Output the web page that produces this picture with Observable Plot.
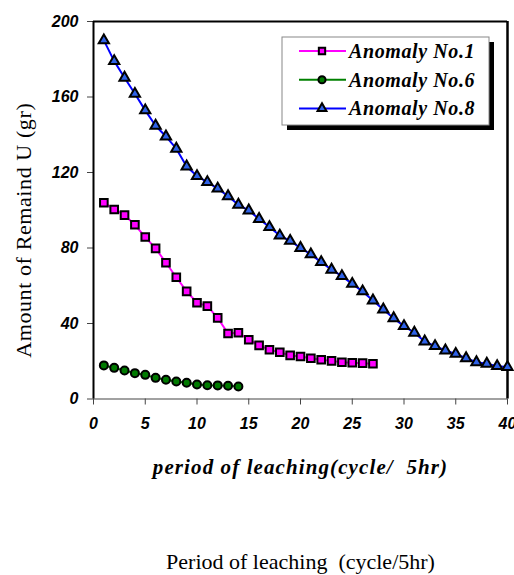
<!DOCTYPE html>
<html>
<head>
<meta charset="utf-8">
<script src="https://cdn.jsdelivr.net/npm/d3@7"></script>
<script src="https://cdn.jsdelivr.net/npm/@observablehq/plot@0.6"></script>
<style>
  html, body { margin: 0; padding: 0; background: #fff; }
  svg text { white-space: pre; }
</style>
</head>
<body>
<div id="chart"></div>
<script>
// ---- data ----
const cycles8 = d3.range(1, 41);
const anomaly8 = [190.0, 179.0, 170.2, 161.7, 152.9, 144.8, 139.1, 132.6, 123.2, 118.1,
                  114.9, 111.5, 107.4, 102.9, 99.9, 95.4, 91.1, 86.6, 83.8, 80.0,
                  76.6, 72.5, 68.5, 65.1, 61.0, 57.0, 52.2, 47.4, 42.8, 38.6,
                  35.1, 30.5, 28.0, 25.7, 23.9, 21.6, 19.5, 18.7, 17.4, 16.9];
const cycles1 = d3.range(1, 28);
const anomaly1 = [104.0, 100.4, 97.4, 92.3, 85.8, 79.8, 72.2, 64.5, 57.0, 51.0,
                  49.2, 43.0, 34.7, 35.1, 31.4, 28.4, 26.1, 24.8, 23.1, 22.5,
                  21.6, 20.8, 20.2, 19.5, 19.2, 19.0, 18.7];
const cycles6 = d3.range(1, 15);
const anomaly6 = [17.8, 16.5, 15.1, 13.7, 12.8, 11.2, 10.2, 9.3, 8.6, 7.7,
                  7.3, 7.2, 7.0, 6.6];
const seriesNames = ["Anomaly No.1", "Anomaly No.6", "Anomaly No.8"];
const xTicks = [0, 5, 10, 15, 20, 25, 30, 35, 40];
const yTicks = [0, 40, 80, 120, 160, 200];
const yTitle = "Amount of Remaind U (gr)";
const xTitle = "period of leaching(cycle/  5hr)";
const caption = "Period of leaching  (cycle/5hr)";

const toRows = (xs, ys, name) => xs.map((x, i) => ({x, y: ys[i], name}));
const d1 = toRows(cycles1, anomaly1, seriesNames[0]);
const d6 = toRows(cycles6, anomaly6, seriesNames[1]);
const d8 = toRows(cycles8, anomaly8, seriesNames[2]);

const colors = {line1: "#ff00ff", line6: "#008000", line8: "#0000ff",
                fill1: "#ff00ff", fill6: "#007a00", fill8: "#2f62e8"};

const serif = "Liberation Serif, Times New Roman, serif";
const tickFont = {fontFamily: "Liberation Sans, Arial, sans-serif", fontSize: 16, fontWeight: "bold", fontStyle: "italic"};

const chart = Plot.plot({
  width: 514,
  height: 575,
  marginLeft: 93,
  marginTop: 21,
  marginRight: 7,
  marginBottom: 176.5,
  x: {domain: [0, 40]},
  y: {domain: [0, 200]},
  style: {background: "#fff", color: "#000", fontFamily: tickFont.fontFamily},
  marks: [
    Plot.axisX({ticks: xTicks, tickSize: 6, tickPadding: 13, stroke: "#444", label: null, ...tickFont, fill: "#000"}),
    Plot.axisY({ticks: yTicks, tickSize: 6, tickPadding: 9, stroke: "#444", label: null, ...tickFont, fill: "#000"}),
    Plot.ruleY([0], {stroke: "#444", strokeWidth: 1.2}),
    Plot.ruleY([200], {stroke: "#000", strokeWidth: 2.2}),
    Plot.ruleX([0], {stroke: "#000", strokeWidth: 2}),
    Plot.ruleX([40], {stroke: "#000", strokeWidth: 2.5}),
    Plot.line(d8, {x: "x", y: "y", stroke: colors.line8, strokeWidth: 2}),
    Plot.line(d1, {x: "x", y: "y", stroke: colors.line1, strokeWidth: 2}),
    Plot.line(d6, {x: "x", y: "y", stroke: colors.line6, strokeWidth: 2}),
    Plot.dot(d8, {x: "x", y: "y", symbol: "triangle", r: 3.8, fill: colors.fill8, stroke: "#000", strokeWidth: 2}),
    Plot.dot(d1, {x: "x", y: "y", symbol: "square", r: 4.3, fill: colors.fill1, stroke: "#000", strokeWidth: 2}),
    Plot.dot(d6, {x: "x", y: "y", symbol: "circle", r: 4, fill: colors.fill6, stroke: "#000", strokeWidth: 2}),
    Plot.text([yTitle], {frameAnchor: "left", rotate: -90, dx: -70, dy: 20, textAnchor: "middle",
      fontFamily: serif, fontSize: 22, fill: "#000"}),
    Plot.text([xTitle], {frameAnchor: "bottom", dy: 75, textAnchor: "middle",
      fontFamily: serif, fontSize: 21, fontWeight: "bold", fontStyle: "italic", fill: "#000"}),
    Plot.text([caption], {frameAnchor: "bottom", dy: 170, textAnchor: "middle",
      fontFamily: serif, fontSize: 22, fill: "#000"})
  ]
});

document.getElementById("chart").appendChild(chart);

// spacing for the titles, like the reference's spread-out lettering
const svg = d3.select(chart);
svg.selectAll("text").filter(function() { return this.textContent === xTitle; }).attr("letter-spacing", 1.1);
svg.selectAll("text").filter(function() { return this.textContent === yTitle; }).attr("letter-spacing", 0.6);

// ---- legend ----
const lg = svg.append("g").attr("transform", "translate(282,37)");
const lw = 207, lh = 88;
lg.append("rect").attr("x", 5).attr("y", 5).attr("width", lw).attr("height", lh).attr("fill", "#000");
lg.append("rect").attr("x", 0).attr("y", 0).attr("width", lw).attr("height", lh)
  .attr("fill", "#fff").attr("stroke", "#888").attr("stroke-width", 1);
const legendItems = [
  {name: seriesNames[0], line: colors.line1, fill: colors.fill1, sym: d3.symbolSquare, size: 40},
  {name: seriesNames[1], line: colors.line6, fill: colors.fill6, sym: d3.symbolCircle, size: 40},
  {name: seriesNames[2], line: colors.line8, fill: colors.fill8, sym: d3.symbolTriangle, size: 34}
];
legendItems.forEach((it, i) => {
  const cy = 14 + i * 28.7;
  const row = lg.append("g").attr("transform", `translate(0,${cy})`);
  row.append("line").attr("x1", 17).attr("x2", 64).attr("y1", 0).attr("y2", 0)
    .attr("stroke", it.line).attr("stroke-width", 2);
  row.append("path").attr("d", d3.symbol(it.sym, it.size)()).attr("transform", "translate(40,0)")
    .attr("fill", it.fill).attr("stroke", "#000").attr("stroke-width", 2);
  row.append("text").attr("x", 67).attr("y", 0).attr("dy", "0.35em")
    .attr("text-anchor", "start")
    .attr("font-family", serif)
    .attr("font-size", 20).attr("font-weight", "bold").attr("font-style", "italic")
    .attr("letter-spacing", 0.6)
    .attr("fill", "#000").text(it.name);
});
</script>
</body>
</html>
